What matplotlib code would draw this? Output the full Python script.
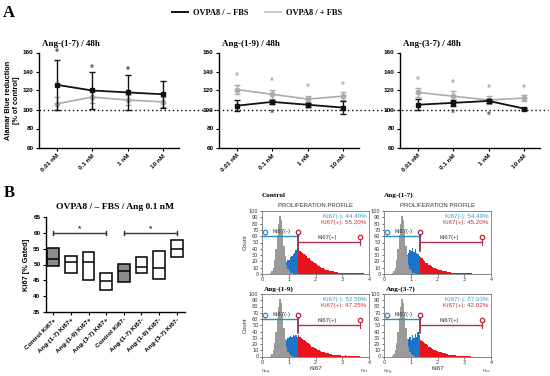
import numpy as np
import matplotlib
matplotlib.use("Agg")
import matplotlib.pyplot as plt
from matplotlib.lines import Line2D

W, H = 550, 376

# --- Panel A: Alamar Blue ---
doses = ["0.01 nM", "0.1 nM", "1 nM", "10 nM"]
titles_a = ["Ang-(1-7) / 48h", "Ang-(1-9) / 48h", "Ang-(3-7) / 48h"]

neg_mean = [[126, 120, 118, 116], [104, 108, 105, 102], [105, 107, 109, 101]]
neg_err = [[26, 19, 18, 14], [6, 2, 2, 7], [6, 3, 2, 1]]
pos_mean = [[106, 113, 110, 108], [121, 116, 111, 114], [118, 114, 110, 112]]
pos_err = [[7, 6, 5, 5], [5, 5, 3, 4], [5, 5, 4, 3]]

# stars: (dose index, y value)
neg_stars = [[(0, 160), (1, 143), (2, 141)], [(1, 95)], [(1, 95), (2, 93)]]
pos_stars = [[], [(0, 134), (1, 129), (2, 123), (3, 125)],
             [(0, 130), (1, 127), (2, 122), (3, 122)]]

# --- Panel B: Ki67 floating bars ---
ki_labels = ["Control Ki67+", "Ang-(1-7) Ki67+", "Ang-(1-9) Ki67+", "Ang-(3-7) Ki67+",
             "Control Ki67-", "Ang-(1-7) Ki67-", "Ang-(1-9) Ki67-", "Ang-(3-7) Ki67-"]
ki_max = [55.1, 52.8, 54.1, 47.2, 50.1, 52.5, 54.4, 57.8]
ki_min = [49.5, 47.4, 45.2, 42.0, 44.5, 47.2, 45.5, 52.5]
ki_med = [51.8, 50.7, 50.8, 44.8, 47.8, 49.1, 48.8, 55.0]
ki_filled = [True, False, False, False, True, False, False, False]
ki_brackets = [(0, 3, 60.0), (4, 7, 60.0)]

# --- Panel B: flow histograms (bin width 0.05 on 0..4) ---
bin_w = 0.05
gate = 1.35
grey_counts = [0, 0, 0, 0, 0, 0, 1, 4, 10, 22, 40, 62, 80, 92, 86, 68, 45, 28, 15, 8, 4, 2, 1]
hist_names = ["Control", "Ang-(1-7)", "Ang-(1-9)", "Ang-(3-7)"]
hist_neg = ["44.40%", "54.49%", "52.59%", "57.93%"]
hist_pos = ["55.20%", "45.20%", "47.25%", "42.02%"]
hist_counts = [
    [0, 0, 0, 0, 0, 0, 0, 1, 2, 3, 4, 6, 7, 9, 10, 13, 14, 17, 19, 22, 23, 27, 28, 32, 34, 38, 42,
     38, 36, 35, 33, 31, 30, 29, 26, 25, 22, 21, 19, 17, 16, 15, 13, 11, 10, 9, 8, 7, 7, 6,
     5, 5, 4, 4, 3, 3, 3, 2, 2, 2, 2, 1, 1, 2, 1, 1, 1, 1, 1, 2, 1, 1, 1, 1, 1, 1],
    [0, 0, 0, 0, 0, 0, 0, 1, 2, 4, 6, 9, 12, 15, 18, 22, 26, 30, 34, 38, 36, 42, 35, 39, 33, 31, 29,
     27, 25, 22, 21, 18, 17, 15, 14, 12, 11, 10, 9, 8, 7, 6, 6, 5, 5, 4, 4, 3, 3, 3,
     2, 2, 2, 2, 1, 1, 1, 1, 1, 1, 1, 1, 1, 1, 1, 1],
    [0, 0, 0, 0, 0, 0, 0, 1, 2, 3, 5, 8, 11, 14, 17, 20, 22, 25, 27, 29, 31, 33, 32, 35, 33, 34, 31,
     34, 31, 30, 28, 27, 25, 23, 21, 20, 18, 16, 15, 13, 12, 11, 10, 9, 8, 7, 7, 6, 5, 5,
     4, 4, 3, 3, 3, 2, 2, 2, 2, 1, 1, 1, 2, 1, 1, 1, 1, 1, 1, 1, 1, 1, 1],
    [0, 0, 0, 0, 0, 0, 0, 0, 1, 2, 3, 5, 8, 12, 16, 20, 25, 22, 28, 32, 26, 34, 30, 36, 31, 40, 35,
     27, 25, 23, 22, 20, 18, 16, 15, 13, 12, 11, 10, 9, 8, 7, 7, 6, 5, 5, 4, 4, 3, 3,
     3, 2, 2, 2, 1, 1, 1, 1, 1, 1, 1, 1, 1, 1, 1],
]

blue = "#1c74c9"
red = "#e8141b"
serif = "Liberation Serif"
sans = "Liberation Sans"


def rect(l, t, r, b):
    return [l / W, 1 - b / H, (r - l) / W, (b - t) / H]


fig = plt.figure(figsize=(5.5, 3.76), dpi=100)

fig.text(3 / W, 1 - 13 / H, "A", fontsize=12, fontweight="bold", family=serif, va="center")
fig.text(4 / W, 1 - 193 / H, "B", fontsize=12, fontweight="bold", family=serif, va="center")

# --- Panel A ---
a_rects = [rect(39, 52.5, 179, 147.5), rect(219, 52.5, 359, 147.5), rect(400, 52.5, 540, 147.5)]
axes_a = []
for i, r in enumerate(a_rects):
    ax = fig.add_axes(r)
    axes_a.append(ax)
    x = np.arange(len(doses))
    ax.errorbar(x, pos_mean[i], yerr=pos_err[i], fmt="-o", color="#ababab", ms=3.2,
                lw=1.2, elinewidth=1.0, capsize=2, capthick=1.0, clip_on=False, zorder=3)
    ax.errorbar(x, neg_mean[i], yerr=neg_err[i], fmt="-s", color="#111111", ms=3.2,
                lw=1.3, elinewidth=1.0, capsize=2, capthick=1.0, clip_on=False, zorder=4)
    for xi, yi in neg_stars[i]:
        ax.text(xi, yi, "*", ha="center", va="center", fontsize=7, color="#555555",
                family=sans, fontweight="bold")
    for xi, yi in pos_stars[i]:
        ax.text(xi, yi, "*", ha="center", va="center", fontsize=7, color="#b0b0b0",
                family=sans, fontweight="bold")
    ax.set_xlim(-0.5, 3.45)
    ax.set_ylim(60, 160)
    ax.set_yticks(range(60, 161, 20))
    ax.set_xticks(x)
    ax.set_xticklabels(doses, rotation=45, ha="right", rotation_mode="anchor")
    for lab in ax.get_xticklabels() + ax.get_yticklabels():
        lab.set_fontsize(4.6)
        lab.set_fontweight("bold")
        lab.set_family(sans)
    ax.tick_params(length=2.5, width=0.8, pad=1.5)
    for s in ["top", "right"]:
        ax.spines[s].set_visible(False)
    for s in ["left", "bottom"]:
        ax.spines[s].set_linewidth(1.0)
    ax.set_title(titles_a[i], loc="left", x=0.02, fontsize=6.5, fontweight="bold",
                 family=serif, pad=5)
    ax.patch.set_alpha(0)

axes_a[0].set_ylabel("Alamar Blue reduction\n[% of control]", fontsize=5.3,
                     fontweight="bold", family=sans, labelpad=2, linespacing=1.1)

# dotted reference at 100% spanning the row
fig.canvas.draw()
to_fig = axes_a[0].transData + fig.transFigure.inverted()
x0, y100 = to_fig.transform((-0.5, 100))
fig.add_artist(Line2D([x0, 548 / W], [y100, y100], color="black", lw=1.0,
                      linestyle=(0, (1, 2)), zorder=0))

handles = [Line2D([], [], color="#111111", lw=1.4), Line2D([], [], color="#c8c8c8", lw=1.4)]
fig.legend(handles, ["OVPA8 / \u2013 FBS", "OVPA8 / + FBS"], loc="center",
           bbox_to_anchor=(257 / W, 1 - 13 / H), ncol=2, frameon=False,
           handlelength=1.9, columnspacing=2.0, handletextpad=0.6,
           prop={"family": serif, "weight": "bold", "size": 6})

# --- Panel B: Ki67 bars ---
axb = fig.add_axes(rect(46, 217.3, 185, 311.7))
xb = np.arange(len(ki_labels))
heights = np.array(ki_max) - np.array(ki_min)
facecols = ["#8c8c8c" if f else "white" for f in ki_filled]
axb.bar(xb, heights, bottom=ki_min, width=0.66, color=facecols, edgecolor="black", lw=1.1)
axb.hlines(ki_med, xb - 0.33, xb + 0.33, color="black", lw=1.1)
for a, b, yv in ki_brackets:
    axb.plot([a, b], [yv, yv], color="#333333", lw=1.0)
    axb.plot([a, a], [yv - 0.6, yv + 0.6], color="#333333", lw=1.0)
    axb.plot([b, b], [yv - 0.6, yv + 0.6], color="#333333", lw=1.0)
    axb.text((a + b) / 2, yv + 1.3, "*", ha="center", va="center", fontsize=6,
             color="#333333", fontweight="bold", family=sans)
axb.set_xlim(-0.41, 7.47)
axb.set_ylim(35, 65)
axb.set_yticks(range(35, 66, 5))
axb.set_xticks(xb)
axb.set_xticklabels(ki_labels, rotation=45, ha="right", rotation_mode="anchor")
for lab in axb.get_xticklabels() + axb.get_yticklabels():
    lab.set_fontsize(4.6)
    lab.set_fontweight("bold")
    lab.set_family(sans)
axb.tick_params(length=2.5, width=0.8, pad=1.5)
for s in ["top", "right"]:
    axb.spines[s].set_visible(False)
for s in ["left", "bottom"]:
    axb.spines[s].set_linewidth(1.0)
axb.set_ylabel("Ki67 [% Gated]", fontsize=5.3, fontweight="bold", family=sans, labelpad=2)
axb.set_title("OVPA8 / \u2013 FBS / Ang 0.1 nM", fontsize=6.8, fontweight="bold",
              family=serif, pad=6)

# --- Panel B: histograms ---
h_rects = [rect(262, 211, 369, 274), rect(384, 211, 491, 274),
           rect(262, 294, 369, 356.5), rect(384, 294, 491, 356.5)]
for k, r in enumerate(h_rects):
    ax = fig.add_axes(r)
    counts = hist_counts[k]
    xs = bin_w * np.arange(len(counts))
    cols = [blue if xv < gate - 1e-9 else red for xv in xs]
    ax.bar(xs, counts, width=bin_w, align="edge", color=cols, lw=0)
    xg = bin_w * np.arange(len(grey_counts))
    ax.bar(xg, grey_counts, width=bin_w, align="edge", color="#9a9a9a", lw=0)

    # gates
    ax.plot([0, gate], [60, 60], color="#2a8fc8", lw=1.0)
    ax.plot([0.1, 0.1], [60, 67], color="#2a8fc8", lw=0.8)
    ax.plot([0.1], [67], "o", mfc="white", mec="#2a8fc8", ms=3.2, mew=0.9)
    ax.plot([gate, gate], [37, 67], color="#8a2040", lw=1.2)
    ax.plot([gate], [67], "o", mfc="white", mec="#b02040", ms=3.2, mew=0.9)
    ax.plot([gate, 3.66], [51, 51], color="#b03050", lw=1.0)
    ax.plot([3.66, 3.66], [46, 58], color="#b03050", lw=0.8)
    ax.plot([3.66], [58], "o", mfc="white", mec="#c02030", ms=3.2, mew=0.9)
    ax.text(0.72, 67, "Ki67(-)", ha="center", va="center", fontsize=4.3, color="#333333",
            family=sans)
    ax.text(2.45, 58, "Ki67(+)", ha="center", va="center", fontsize=4.3, color="#333333",
            family=sans)
    ax.text(3.9, 91, "Ki67(-): " + hist_neg[k], ha="right", va="center", fontsize=4.5,
            color="#2f9fcf", family=sans)
    ax.text(3.9, 81, "Ki67(+): " + hist_pos[k], ha="right", va="center", fontsize=4.5,
            color="#d0303a", family=sans)

    ax.set_xlim(0, 4)
    ax.set_ylim(0, 100)
    ax.set_xticks(range(5))
    ax.set_yticks(range(0, 101, 10))
    ax.tick_params(labelsize=3.6, length=1.5, width=0.5, pad=1, colors="#333333")
    for s in ax.spines.values():
        s.set_linewidth(0.6)
        s.set_color("#777777")
    top_row = k < 2
    if top_row:
        ax.text(0.5, 1.04, "PROLIFERATION PROFILE", transform=ax.transAxes, ha="center",
                va="bottom", fontsize=4.3, color="#333333", family=sans)
        ax.text(0.0, 1.2, hist_names[k], transform=ax.transAxes, ha="left", va="bottom",
                fontsize=5.2, fontweight="bold", family=serif)
    else:
        ax.text(0.02, 1.04, hist_names[k], transform=ax.transAxes, ha="left", va="bottom",
                fontsize=5.2, fontweight="bold", family=serif)
        ax.set_xlabel("Ki67", fontsize=4.6, labelpad=1, family=sans, color="#333333")
        ax.text(0.0, -0.2, "Neg.", transform=ax.transAxes, ha="left", va="top",
                fontsize=3.2, color="#555555", family=sans)
        ax.text(1.0, -0.2, "Pos.", transform=ax.transAxes, ha="right", va="top",
                fontsize=3.2, color="#555555", family=sans)
    if k % 2 == 0:
        ax.set_ylabel("Count", fontsize=4.2, labelpad=1, family=sans, color="#333333")

fig.savefig("out.png", dpi=100)
